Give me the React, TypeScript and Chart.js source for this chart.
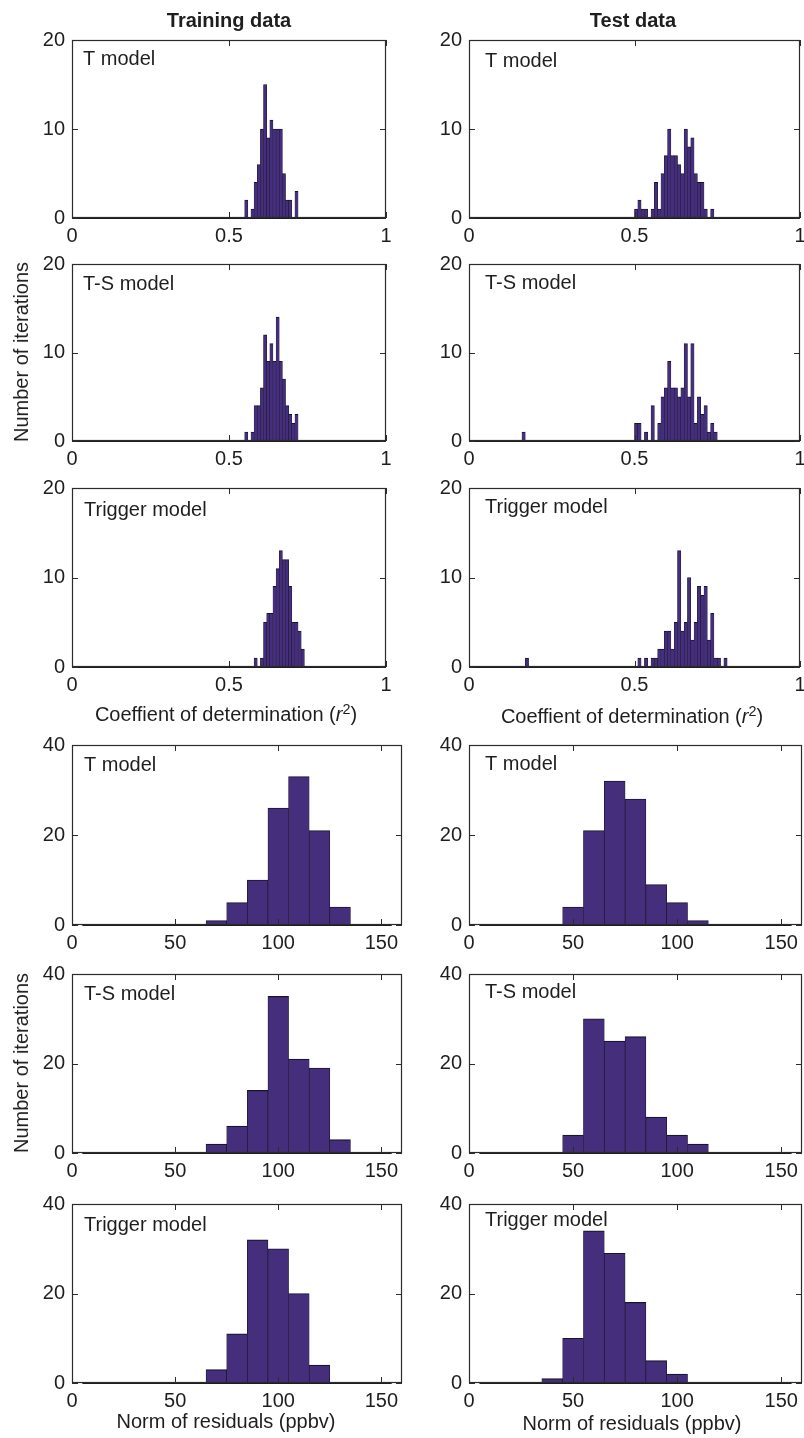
import React, { useEffect, useRef } from "react";
import { Chart, registerables } from "chart.js";

Chart.register(...registerables);

const FONT = '"Liberation Sans", Arial, Helvetica, sans-serif';
const TEXT = "#1e1e1e";
const BAR_FILL = "#452e7b";
const BAR_EDGE = "#1a1430";
const AXIS = "#2b2b2b";

// ---- tick labels / axis ranges ----
const r2Ticks = [0, 0.5, 1];
const r2CountTicks = [0, 10, 20];
const resTicks = [0, 50, 100, 150];
const resCountTicks = [0, 20, 40];
const r2BinRange = [0, 1];
const resBinRange = [5, 155];

// ---- r^2 histograms (bin centres, counts) ----
const r2TrainT_x = [0.555, 0.575, 0.585, 0.595, 0.605, 0.615, 0.625, 0.635, 0.645, 0.655, 0.665, 0.675, 0.685, 0.695, 0.715];
const r2TrainT_n = [2, 1, 4, 6, 10, 15, 9, 11, 10, 10, 10, 5, 2, 2, 3];

const r2TestT_x = [0.505, 0.515, 0.525, 0.535, 0.555, 0.565, 0.575, 0.585, 0.595, 0.605, 0.615, 0.625, 0.635, 0.645, 0.655, 0.665, 0.675, 0.685, 0.695, 0.705, 0.715, 0.735];
const r2TestT_n = [1, 2, 1, 1, 1, 4, 1, 5, 7, 10, 7, 7, 6, 5, 10, 8, 9, 5, 4, 4, 1, 1];

const r2TrainTS_x = [0.555, 0.575, 0.585, 0.595, 0.605, 0.615, 0.625, 0.635, 0.645, 0.655, 0.665, 0.675, 0.685, 0.695, 0.705, 0.715];
const r2TrainTS_n = [1, 1, 4, 4, 6, 12, 9, 11, 9, 14, 9, 7, 4, 3, 2, 3];

const r2TestTS_x = [0.165, 0.505, 0.515, 0.535, 0.555, 0.575, 0.585, 0.595, 0.605, 0.615, 0.625, 0.635, 0.645, 0.655, 0.665, 0.675, 0.685, 0.695, 0.705, 0.715, 0.725, 0.735, 0.745];
const r2TestTS_n = [1, 2, 2, 1, 4, 2, 5, 6, 9, 6, 6, 5, 6, 11, 5, 11, 2, 5, 3, 4, 1, 2, 1];

const r2TrainTrig_x = [0.585, 0.605, 0.615, 0.625, 0.635, 0.645, 0.655, 0.665, 0.675, 0.685, 0.695, 0.705, 0.715, 0.725, 0.735];
const r2TrainTrig_n = [1, 1, 5, 6, 6, 9, 11, 13, 12, 12, 9, 5, 5, 4, 2];

const r2TestTrig_x = [0.175, 0.515, 0.535, 0.555, 0.565, 0.575, 0.585, 0.595, 0.605, 0.615, 0.625, 0.635, 0.645, 0.655, 0.665, 0.675, 0.685, 0.695, 0.705, 0.715, 0.725, 0.735, 0.745, 0.755, 0.775];
const r2TestTrig_n = [1, 1, 1, 1, 1, 2, 2, 4, 4, 2, 5, 13, 4, 5, 10, 3, 5, 9, 8, 9, 3, 6, 1, 1, 1];

// ---- norm of residuals histograms (bin centres, counts) ----
const resTrainT_x = [70, 80, 90, 100, 110, 120, 130];
const resTrainT_n = [1, 5, 10, 26, 33, 21, 4];

const resTestT_x = [50, 60, 70, 80, 90, 100, 110];
const resTestT_n = [4, 21, 32, 28, 9, 5, 1];

const resTrainTS_x = [70, 80, 90, 100, 110, 120, 130];
const resTrainTS_n = [2, 6, 14, 35, 21, 19, 3];

const resTestTS_x = [50, 60, 70, 80, 90, 100, 110];
const resTestTS_n = [4, 30, 25, 26, 8, 4, 2];

const resTrainTrig_x = [70, 80, 90, 100, 110, 120];
const resTrainTrig_n = [3, 11, 32, 30, 20, 4];

const resTestTrig_x = [40, 50, 60, 70, 80, 90, 100];
const resTestTrig_n = [1, 10, 34, 29, 18, 5, 2];

type Kind = "r2" | "res";
type PanelCfg = {
  label: string;
  xs: number[];
  ns: number[];
  kind: Kind;
  box: [number, number, number, number];
  labelDx: number;
  labelDy: number;
};

const AX_W = 60;
const PAD_T = 20;
const AX_H = 40;
const PAGE_W = 804;

const panels: PanelCfg[] = [
  { label: "T model", xs: r2TrainT_x, ns: r2TrainT_n, kind: "r2", box: [72, 40, 314, 178], labelDx: 11, labelDy: 25 },
  { label: "T model", xs: r2TestT_x, ns: r2TestT_n, kind: "r2", box: [469, 40, 331, 178], labelDx: 16, labelDy: 27 },
  { label: "T-S model", xs: r2TrainTS_x, ns: r2TrainTS_n, kind: "r2", box: [72, 264, 314, 177], labelDx: 11, labelDy: 26 },
  { label: "T-S model", xs: r2TestTS_x, ns: r2TestTS_n, kind: "r2", box: [469, 264, 331, 177], labelDx: 16, labelDy: 25 },
  { label: "Trigger model", xs: r2TrainTrig_x, ns: r2TrainTrig_n, kind: "r2", box: [72, 488, 314, 179], labelDx: 12, labelDy: 28 },
  { label: "Trigger model", xs: r2TestTrig_x, ns: r2TestTrig_n, kind: "r2", box: [469, 488, 331, 179], labelDx: 16, labelDy: 25 },
  { label: "T model", xs: resTrainT_x, ns: resTrainT_n, kind: "res", box: [72, 745, 330, 180], labelDx: 12, labelDy: 26 },
  { label: "T model", xs: resTestT_x, ns: resTestT_n, kind: "res", box: [469, 745, 333, 180], labelDx: 16, labelDy: 25 },
  { label: "T-S model", xs: resTrainTS_x, ns: resTrainTS_n, kind: "res", box: [72, 974, 330, 179], labelDx: 12, labelDy: 26 },
  { label: "T-S model", xs: resTestTS_x, ns: resTestTS_n, kind: "res", box: [469, 974, 333, 179], labelDx: 16, labelDy: 24 },
  { label: "Trigger model", xs: resTrainTrig_x, ns: resTrainTrig_n, kind: "res", box: [72, 1204, 330, 179], labelDx: 12, labelDy: 27 },
  { label: "Trigger model", xs: resTestTrig_x, ns: resTestTrig_n, kind: "res", box: [469, 1204, 333, 179], labelDx: 16, labelDy: 22 },
];

function Panel({ cfg }: { cfg: PanelCfg }) {
  const ref = useRef<HTMLCanvasElement | null>(null);
  const [bl, bt, bw, bh] = cfg.box;
  const left = bl - AX_W;
  const top = bt - PAD_T;
  const width = Math.min(PAGE_W - left, bw + AX_W + 20);
  const height = bh + PAD_T + AX_H;
  const padR = width - AX_W - bw;

  useEffect(() => {
    const isR2 = cfg.kind === "r2";
    const xTicks = isR2 ? r2Ticks : resTicks;
    const yTicks = isR2 ? r2CountTicks : resCountTicks;
    const binRange = isR2 ? r2BinRange : resBinRange;
    const xMax = isR2 ? 1 : 160;
    const yMax = yTicks[yTicks.length - 1];

    const framePlugin = {
      id: "frame",
      afterDatasetsDraw(chart: any) {
        const { ctx, chartArea: a, scales } = chart;
        const xs = scales.x;
        const ys = scales.y;
        ctx.save();
        // histogram baseline (empty bins)
        ctx.strokeStyle = "#1c1c26";
        ctx.lineWidth = 2;
        const y0 = ys.getPixelForValue(0);
        ctx.beginPath();
        ctx.moveTo(Math.max(a.left, xs.getPixelForValue(binRange[0])), y0);
        ctx.lineTo(Math.min(a.right, xs.getPixelForValue(binRange[1])), y0);
        ctx.stroke();
        // box
        ctx.strokeStyle = AXIS;
        ctx.lineWidth = 1.2;
        ctx.strokeRect(a.left + 0.5, a.top + 0.5, a.right - a.left - 1, a.bottom - a.top - 1);
        // inward tick marks on all sides
        ctx.lineWidth = 1;
        const TL = 6;
        ctx.beginPath();
        for (const v of xTicks) {
          const px = Math.round(xs.getPixelForValue(v)) + 0.5;
          ctx.moveTo(px, a.bottom);
          ctx.lineTo(px, a.bottom - TL);
          ctx.moveTo(px, a.top);
          ctx.lineTo(px, a.top + TL);
        }
        for (const v of yTicks) {
          const py = Math.round(ys.getPixelForValue(v)) + 0.5;
          ctx.moveTo(a.left, py);
          ctx.lineTo(a.left + TL, py);
          ctx.moveTo(a.right, py);
          ctx.lineTo(a.right - TL, py);
        }
        ctx.stroke();
        // panel label
        ctx.fillStyle = TEXT;
        ctx.font = `20px ${FONT}`;
        ctx.textAlign = "left";
        ctx.textBaseline = "alphabetic";
        ctx.fillText(cfg.label, a.left + cfg.labelDx, a.top + cfg.labelDy);
        ctx.restore();
      },
    };

    const chart = new Chart(ref.current as HTMLCanvasElement, {
      type: "bar",
      data: {
        datasets: [
          {
            data: cfg.xs.map((x, i) => ({ x, y: cfg.ns[i] })),
            backgroundColor: BAR_FILL,
            borderColor: BAR_EDGE,
            borderWidth: isR2
              ? { top: 1, left: 0.5, right: 0.5, bottom: 0 }
              : { top: 1.2, left: 0.7, right: 0.7, bottom: 0 },
            borderSkipped: false,
            barPercentage: 1,
            categoryPercentage: 1,
          } as any,
        ],
      },
      options: {
        responsive: false,
        maintainAspectRatio: false,
        animation: false,
        devicePixelRatio: 1,
        layout: { padding: { left: 0, top: PAD_T, right: padR, bottom: 0 } },
        plugins: {
          legend: { display: false },
          tooltip: { enabled: false },
          title: { display: false },
        },
        scales: {
          x: {
            type: "linear",
            min: 0,
            max: xMax,
            offset: false,
            grid: { display: false, drawTicks: false },
            border: { display: false },
            ticks: {
              padding: 6,
              autoSkip: false,
              maxRotation: 0,
              minRotation: 0,
              color: TEXT,
              font: { family: FONT, size: 20 },
              callback: (v: any) => String(v),
            },
            afterBuildTicks: (s: any) => {
              s.ticks = xTicks.map((v) => ({ value: v }));
            },
            afterFit: (s: any) => {
              s.height = AX_H;
              s.paddingLeft = 0;
              s.paddingRight = 0;
            },
          },
          y: {
            min: 0,
            max: yMax,
            grid: { display: false, drawTicks: false },
            border: { display: false },
            ticks: {
              padding: 7,
              autoSkip: false,
              color: TEXT,
              font: { family: FONT, size: 20 },
              callback: (v: any) => String(v),
            },
            afterBuildTicks: (s: any) => {
              s.ticks = yTicks.map((v) => ({ value: v }));
            },
            afterFit: (s: any) => {
              s.width = AX_W;
              s.paddingTop = 0;
              s.paddingBottom = 0;
            },
          },
        },
      } as any,
      plugins: [framePlugin],
    });
    return () => chart.destroy();
  }, []);

  return (
    <canvas
      ref={ref}
      width={width}
      height={height}
      style={{ position: "absolute", left, top, width, height }}
    />
  );
}

const txt: React.CSSProperties = {
  position: "absolute",
  fontFamily: FONT,
  fontSize: 20,
  lineHeight: "20px",
  color: TEXT,
  whiteSpace: "nowrap",
};

function R2Title({ cx, top }: { cx: number; top: number }) {
  return (
    <div style={{ ...txt, left: cx, top, transform: "translateX(-50%)" }}>
      Coeffient of determination (<i>r</i>
      <span style={{ fontSize: "0.72em", position: "relative", top: "-0.5em" }}>2</span>)
    </div>
  );
}

export default function App() {
  return (
    <div
      style={{
        position: "absolute",
        left: 0,
        top: 0,
        width: 804,
        height: 1438,
        overflow: "hidden",
        background: "#ffffff",
      }}
    >
      {panels.map((p, i) => (
        <Panel key={i} cfg={p} />
      ))}
      <div style={{ ...txt, fontWeight: "bold", left: 229, top: 10, transform: "translateX(-50%)" }}>
        Training data
      </div>
      <div style={{ ...txt, fontWeight: "bold", left: 633, top: 10, transform: "translateX(-50%)" }}>
        Test data
      </div>
      <div style={{ ...txt, left: 20.5, top: 352, transform: "translate(-50%, -50%) rotate(-90deg)" }}>
        Number of iterations
      </div>
      <div style={{ ...txt, left: 20.5, top: 1063, transform: "translate(-50%, -50%) rotate(-90deg)" }}>
        Number of iterations
      </div>
      <R2Title cx={226} top={704} />
      <R2Title cx={632} top={706} />
      <div style={{ ...txt, left: 226, top: 1411, transform: "translateX(-50%)" }}>
        Norm of residuals (ppbv)
      </div>
      <div style={{ ...txt, left: 632, top: 1413, transform: "translateX(-50%)" }}>
        Norm of residuals (ppbv)
      </div>
    </div>
  );
}
